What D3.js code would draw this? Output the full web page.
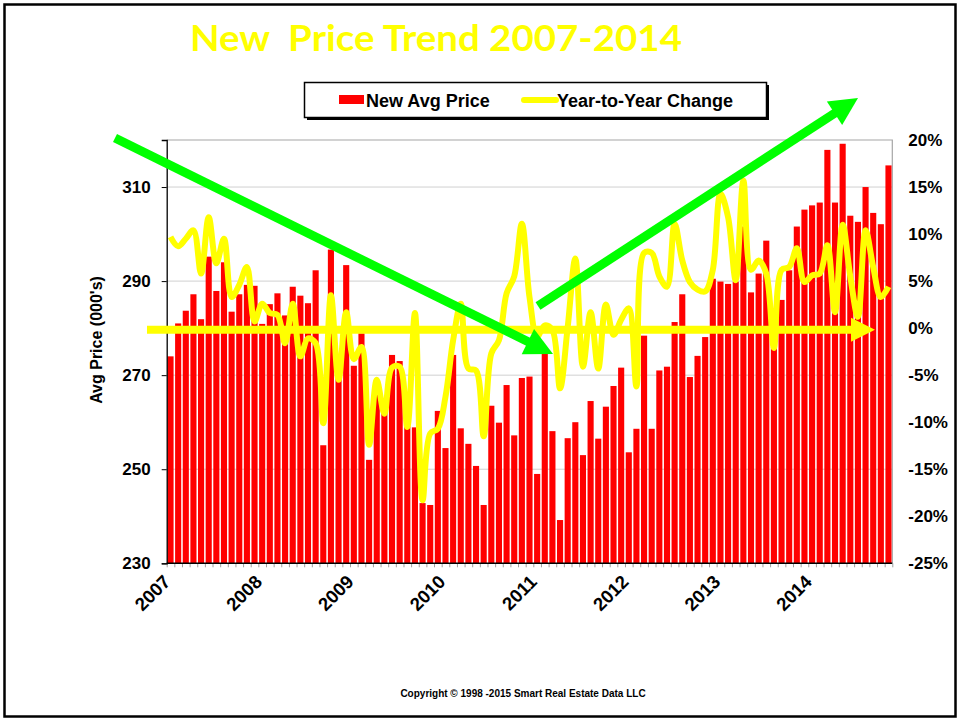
<!DOCTYPE html>
<html>
<head>
<meta charset="utf-8">
<script src="https://cdn.jsdelivr.net/npm/d3@7"></script>
<style>
  body { margin: 0; background: #fff; }
  svg text { font-family: "Liberation Sans", Arial, sans-serif; font-weight: bold; }
</style>
</head>
<body>
<div id="chart"></div>
<script>
// years on the category axis (one bar per month, Jan 2007 - Nov 2014)
var years = [2007, 2008, 2009, 2010, 2011, 2012, 2013, 2014];

// new home average price, 000's
var avgPrice = [
  274, 281, 283.7, 287.2, 281.9, 295.2, 287.9, 294, 283.5, 287.2, 289.2, 289,
  280.9, 285.1, 287.4, 282.7, 288.8, 286.9, 285.3, 292.3, 255.1, 296.7, 272, 293.4,
  272, 278.9, 252, 266, 262, 274.3, 273, 259.1, 258.9, 242.8, 242.4, 262.4,
  254.5, 274.3, 258.7, 255.4, 250.7, 242.4, 263.5, 259.9, 267.9, 257.2, 269.4, 269.7,
  249, 274.7, 258.1, 239.2, 256.6, 260, 253, 264.5, 256.5, 263.3, 267.7, 271.6,
  253.6, 258.6, 278.4, 258.6, 271, 271.8, 281.3, 287.2, 269.6, 274.1, 278.1, 290.5,
  289.9, 289.4, 289.9, 301.6, 287.6, 291.6, 298.6, 276, 286, 292.3, 301.6, 305.2,
  306.1, 306.7, 317.9, 306.7, 319.2, 303.9, 302.6, 310, 304.5, 302.1, 314.6
];

// year-to-year change, %
var yoyChange = [
  9.7, 8.7, 9.5, 10.4, 5.8, 11.8, 6.9, 9.5, 3.3, 4.6, 6.5, 0.7,
  2.6, 1.6, 1.4, -1.6, 2.6, -3.0, -1.1, -1.6, -10.1, 3.5, -5.5, 1.7,
  -3.3, -2.0, -12.4, -5.5, -9.1, -4.2, -4.1, -10.5, 1.6, -18.3, -11.2, -10.7,
  -7.3, -1.3, 2.6, -4.3, -4.5, -11.5, -2.7, -1.3, 3.7, 5.5, 11.1, 3.3,
  -0.9, 0.3, -0.2, -6.4, 0.1, 7.4, -4.1, 1.7, -4.3, 2.5, -0.7, 0.9,
  2.1, -6.2, 8.0, 8.0, 5.5, 4.4, 11.1, 7.2, 4.9, 4.1, 3.9, 6.2,
  14.3, 11.8, 5.1, 15.7, 6.2, 7.2, 5.8, -2.1, 6.2, 6.5, 8.5, 4.9,
  5.6, 5.8, 8.8, 1.7, 11.0, 5.5, 1.2, 10.4, 6.5, 3.3, 4.4
];

var leftTicks = [230, 250, 270, 290, 310];
var rightTicks = [-25, -20, -15, -10, -5, 0, 5, 10, 15, 20];

var months = years.flatMap(function(y) {
  return d3.range(1, 13).map(function(m) { return y + "-" + m; });
}).slice(0, avgPrice.length);

var data = months.map(function(m, i) {
  return {month: m, price: avgPrice[i], change: yoyChange[i]};
});

var width = 960, height = 721;
var plot = {left: 166.7, right: 892.3, top: 140, bottom: 563.3};

var svg = d3.select("#chart").append("svg")
  .attr("width", width)
  .attr("height", height);

// outer frame
svg.append("rect")
  .attr("x", 4.5).attr("y", 4.5)
  .attr("width", 951).attr("height", 712)
  .attr("fill", "#fff")
  .attr("stroke", "#000")
  .attr("stroke-width", 2.5);

// scales
var x = d3.scaleBand()
  .domain(months)
  .range([plot.left, plot.right])
  .paddingInner(0.2)
  .paddingOuter(0.1);

var yL = d3.scaleLinear().domain([230, 320]).range([plot.bottom, plot.top]);
var yR = d3.scaleLinear().domain([-25, 20]).range([plot.bottom, plot.top]);

// gridlines
svg.append("g")
  .selectAll("line")
  .data(leftTicks.slice(1))
  .enter().append("line")
  .attr("x1", plot.left).attr("x2", plot.right)
  .attr("y1", function(d) { return yL(d); })
  .attr("y2", function(d) { return yL(d); })
  .attr("stroke", "#d0d0d0")
  .attr("stroke-width", 1);

// plot border (top and right, grey)
svg.append("path")
  .attr("d", "M" + plot.left + "," + plot.top + "H" + plot.right + "V" + plot.bottom)
  .attr("fill", "none")
  .attr("stroke", "#a6a6a6")
  .attr("stroke-width", 1.2);

// bars
svg.append("g")
  .selectAll("rect")
  .data(data)
  .enter().append("rect")
  .attr("x", function(d) { return x(d.month); })
  .attr("width", x.bandwidth())
  .attr("y", function(d) { return yL(d.price); })
  .attr("height", function(d) { return plot.bottom - yL(d.price); })
  .attr("fill", "#ff0000");

// minor ticks under the category axis
var xTick = d3.scaleLinear().domain([0, months.length]).range([plot.left, plot.right]);
svg.append("g")
  .attr("transform", "translate(0," + plot.bottom + ")")
  .call(d3.axisBottom(xTick).tickValues(d3.range(0, months.length + 1)).tickSize(4).tickFormat(""))
  .call(function(g) {
    g.select(".domain").remove();
    g.selectAll(".tick line").attr("stroke", "#a0a0a0");
  });

// left axis
svg.append("g")
  .attr("transform", "translate(" + plot.left + ",0)")
  .call(d3.axisLeft(yL).tickValues(leftTicks).tickSize(5).tickPadding(11))
  .call(function(g) {
    g.select(".domain").attr("stroke", "#000").attr("stroke-width", 1.3);
    g.selectAll(".tick line").attr("stroke", "#000");
    g.selectAll(".tick text").attr("font-size", 17).attr("fill", "#000");
  });

// right axis
svg.append("g")
  .attr("transform", "translate(" + plot.right + ",0)")
  .call(d3.axisRight(yR).tickValues(rightTicks).tickSize(0).tickPadding(16)
    .tickFormat(function(d) { return d + "%"; }))
  .call(function(g) {
    g.select(".domain").remove();
    g.selectAll(".tick text").attr("font-size", 17).attr("fill", "#000");
  });

// bottom axis line
svg.append("line")
  .attr("x1", plot.left).attr("x2", plot.right)
  .attr("y1", plot.bottom).attr("y2", plot.bottom)
  .attr("stroke", "#000").attr("stroke-width", 1.5);

// year labels
svg.append("g")
  .selectAll("text")
  .data(years)
  .enter().append("text")
  .attr("transform", function(d) {
    var cx = x(d + "-1") + x.bandwidth() / 2 + 1;
    return "translate(" + cx + ",583) rotate(-45)";
  })
  .attr("text-anchor", "end")
  .attr("font-size", 18.5)
  .text(function(d) { return d; });

// y axis title
svg.append("text")
  .attr("transform", "translate(102,340) rotate(-90)")
  .attr("text-anchor", "middle")
  .attr("font-size", 16)
  .text("Avg Price (000's)");

// horizontal yellow arrow at 0%
var zeroY = yR(0) + 1.5;
svg.append("line")
  .attr("x1", 147).attr("x2", 856)
  .attr("y1", zeroY).attr("y2", zeroY)
  .attr("stroke", "#ffff00")
  .attr("stroke-width", 8);
svg.append("path")
  .attr("d", "M851," + (zeroY - 12) + "L875," + zeroY + "L851," + (zeroY + 12) + "Z")
  .attr("fill", "#ffff00");

// year-to-year change line (smoothed)
var line = d3.line()
  .x(function(d) { return x(d.month) + x.bandwidth() / 2; })
  .y(function(d) { return yR(d.change); })
  .curve(d3.curveCatmullRom.alpha(0.5));

svg.append("path")
  .datum(data)
  .attr("d", line)
  .attr("fill", "none")
  .attr("stroke", "#ffff00")
  .attr("stroke-width", 6)
  .attr("stroke-linejoin", "round");

// green trend arrows
var arrows = [
  {x1: 115, y1: 138, x2: 553, y2: 354},
  {x1: 538, y1: 306, x2: 858, y2: 98}
];

arrows.forEach(function(a) {
  var dx = a.x2 - a.x1, dy = a.y2 - a.y1;
  var len = Math.sqrt(dx * dx + dy * dy);
  var ux = dx / len, uy = dy / len;
  var headLen = 28, headW = 14;
  var bx = a.x2 - ux * headLen, by = a.y2 - uy * headLen;
  svg.append("line")
    .attr("x1", a.x1).attr("y1", a.y1)
    .attr("x2", bx + ux * 2).attr("y2", by + uy * 2)
    .attr("stroke", "#00ff00")
    .attr("stroke-width", 9);
  svg.append("path")
    .attr("d", "M" + a.x2 + "," + a.y2 +
      "L" + (bx - uy * headW) + "," + (by + ux * headW) +
      "L" + (bx + uy * headW) + "," + (by - ux * headW) + "Z")
    .attr("fill", "#00ff00");
});

// legend
var legend = svg.append("g");
legend.append("rect")
  .attr("x", 307).attr("y", 85)
  .attr("width", 462).attr("height", 35)
  .attr("fill", "#000");
legend.append("rect")
  .attr("x", 304.5).attr("y", 82.5)
  .attr("width", 462).attr("height", 35)
  .attr("fill", "#fff")
  .attr("stroke", "#000")
  .attr("stroke-width", 1.5);
legend.append("rect")
  .attr("x", 339).attr("y", 95)
  .attr("width", 25).attr("height", 9)
  .attr("fill", "#ff0000");
legend.append("text")
  .attr("x", 366).attr("y", 107)
  .attr("font-size", 18)
  .text("New Avg Price");
legend.append("line")
  .attr("x1", 524).attr("x2", 556)
  .attr("y1", 100).attr("y2", 100)
  .attr("stroke", "#ffff00")
  .attr("stroke-width", 6)
  .attr("stroke-linecap", "round");
legend.append("text")
  .attr("x", 557).attr("y", 107)
  .attr("font-size", 18)
  .text("Year-to-Year Change");

// title
svg.append("text")
  .attr("x", 190).attr("y", 51)
  .attr("font-size", 37)
  .attr("fill", "#ffff00")
  .style("font-family", "Lato, 'Open Sans', sans-serif")
  .style("white-space", "pre")
  .attr("textLength", 492)
  .attr("lengthAdjust", "spacingAndGlyphs")
  .text("New  Price Trend 2007-2014");

// copyright
svg.append("text")
  .attr("x", 523).attr("y", 697)
  .attr("text-anchor", "middle")
  .attr("font-size", 10)
  .text("Copyright \u00a9 1998 -2015 Smart Real Estate Data LLC");
</script>
</body>
</html>
